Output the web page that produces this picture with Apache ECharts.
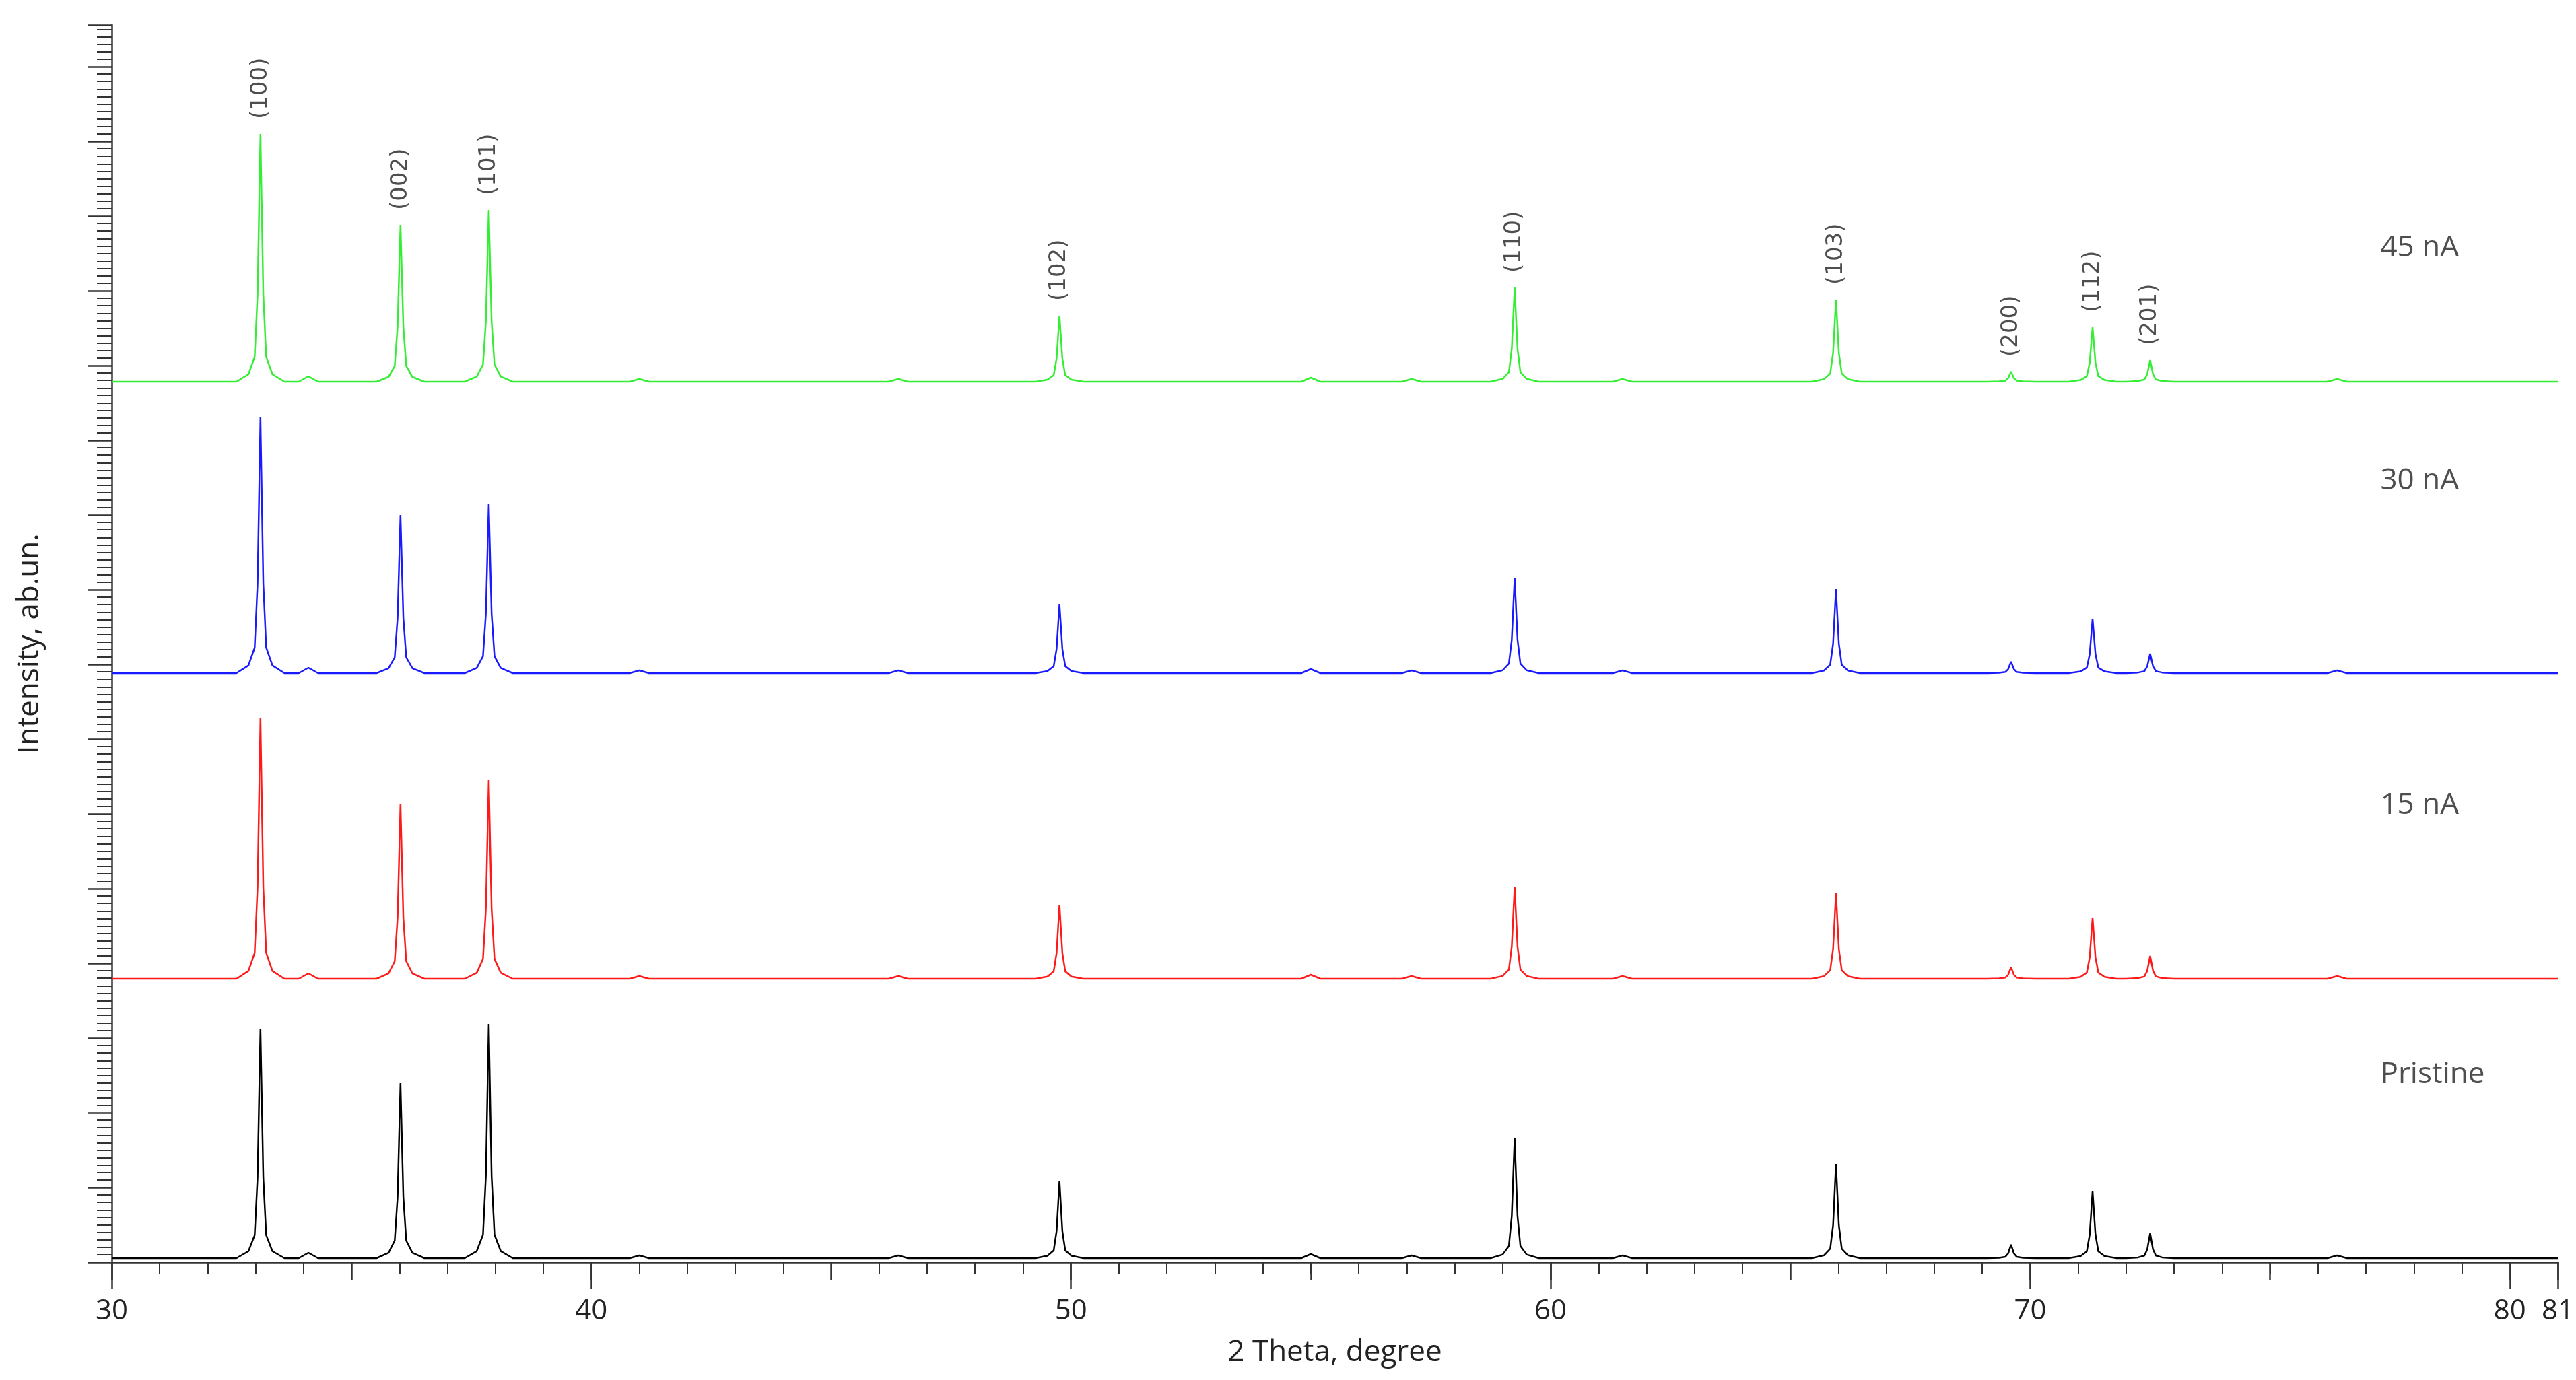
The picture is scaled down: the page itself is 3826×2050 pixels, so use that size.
<!DOCTYPE html>
<html>
<head>
<meta charset="utf-8">
<script src="https://cdn.jsdelivr.net/npm/echarts@6/dist/echarts.min.js"></script>
<style>html,body{margin:0;padding:0;background:#fff}#chart{width:3826px;height:2050px}</style>
</head>
<body>
<div id="chart"></div>
<script>
// peak positions (2 theta) and hkl labels
var peakPos = [33.1, 36.02, 37.86, 49.76, 59.25, 65.95, 69.6, 71.3, 72.5];
var peakHkl = ['(100)', '(002)', '(101)', '(102)', '(110)', '(103)', '(200)', '(112)', '(201)'];
// peak heights above each baseline
var hPristine = [341, 260, 348, 115, 179, 140, 20, 100, 37];
var h15 = [387, 260, 296, 110, 137, 127, 17, 91, 34];
var h30 = [380, 235, 252, 103, 142, 125, 17, 81, 29];
var h45 = [368, 233, 255, 98, 140, 122, 15, 81, 32];
// small bumps in the background
var bumpPos = [34.1, 41.0, 46.4, 55.0, 57.1, 61.5, 76.4];
var bumpH = [8, 4, 4, 6, 4, 4, 4];
// baselines of stacked patterns
var baseNames = ['Pristine', '15 nA', '30 nA', '45 nA'];
var baseLevels = [6, 421, 875, 1308];
var nameLevels = [279, 679, 1161, 1507];
var colors = ['#000000', '#ff1a1a', '#1a1aff', '#33ee33'];
// sharp peak profile (offset in degrees, fraction of height)
var profOff = [-0.5, -0.25, -0.12, -0.06, 0, 0.06, 0.12, 0.25, 0.5];
var profFrac = [0, 0.03, 0.1, 0.35, 1, 0.35, 0.1, 0.03, 0];
var bumpOff = [-0.2, 0, 0.2];
var bumpFrac = [0, 1, 0];

function buildPattern(heights, base) {
    var pts = [[30, base], [81, base]];
    peakPos.forEach(function (p, i) {
        profOff.forEach(function (o, k) { pts.push([p + o, base + heights[i] * profFrac[k]]); });
    });
    bumpPos.forEach(function (p, i) {
        bumpOff.forEach(function (o, k) { pts.push([p + o, base + bumpH[i] * bumpFrac[k]]); });
    });
    pts.sort(function (a, b) { return a[0] - b[0]; });
    return pts;
}

var heightSets = [hPristine, h15, h30, h45];
var series = [];
heightSets.forEach(function (h, i) {
    series.push({
        type: 'line', showSymbol: false, silent: true,
        data: buildPattern(h, baseLevels[i]),
        lineStyle: { color: colors[i], width: 2.5 }
    });
});

series.push({
    type: 'scatter', symbolSize: 0, silent: true,
    data: baseNames.map(function (n, i) { return { value: [77.3, nameLevels[i]], name: n }; }),
    label: { show: true, position: 'inside', align: 'left', formatter: '{b}', fontSize: 44, color: '#222', fontFamily: 'Open Sans' }
});

series.push({
    type: 'scatter', symbolSize: 0, silent: true,
    data: peakPos.map(function (p, i) { return { value: [p, baseLevels[3] + h45[i] + 22], name: peakHkl[i] }; }),
    label: { show: true, position: 'inside', align: 'left', verticalAlign: 'middle', rotate: 90, formatter: '{b}', fontSize: 34, color: '#222', fontFamily: 'DejaVu Sans' }
});

var myChart = echarts.init(document.getElementById('chart'));
myChart.setOption({
    animation: false,
    grid: { left: 166, right: 16, top: 37, bottom: 175 },
    xAxis: [{
        type: 'value', min: 30, max: 81, interval: 10,
        name: '2 Theta, degree', nameLocation: 'middle', nameGap: 112,
        nameTextStyle: { fontSize: 44, color: '#222', fontFamily: 'Open Sans' },
        axisLine: { lineStyle: { color: '#333', width: 2.5 } },
        axisTick: { length: 40, lineStyle: { color: '#333', width: 2.5 } },
        minorTick: { show: true, splitNumber: 10, length: 17, lineStyle: { color: '#333', width: 2 } },
        axisLabel: { fontSize: 42, color: '#222', margin: 52, fontFamily: 'Open Sans' },
        splitLine: { show: false }
    }, {
        type: 'value', min: 30, max: 81, interval: 5, position: 'bottom',
        axisLine: { show: false }, axisLabel: { show: false }, splitLine: { show: false },
        axisTick: { length: 26, lineStyle: { color: '#333', width: 2.5 } }
    }],
    yAxis: {
        type: 'value', min: 0, max: 1838, interval: 111,
        name: 'Intensity, ab.un.', nameLocation: 'middle', nameGap: 100,
        nameTextStyle: { fontSize: 44, color: '#222', fontFamily: 'Open Sans' },
        axisLine: { show: true, lineStyle: { color: '#333', width: 2.5 } },
        axisTick: { show: true, length: 36, lineStyle: { color: '#333', width: 2.5 } },
        minorTick: { show: true, splitNumber: 10, length: 22, lineStyle: { color: '#333', width: 2 } },
        axisLabel: { show: false },
        splitLine: { show: false }
    },
    series: series
});
</script>
</body>
</html>
